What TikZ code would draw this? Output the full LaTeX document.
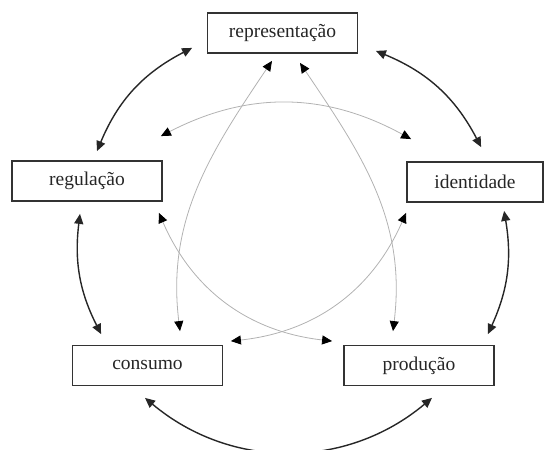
\documentclass[tikz,border=0pt]{standalone}
\usepackage{fontspec}
\setmainfont{Liberation Serif}
\usepackage{tikz}
\usetikzlibrary{arrows.meta}

\begin{document}
\begin{tikzpicture}[
  x=1pt, y=1pt,
  stage/.style={rectangle, draw=black!80, line width=1.8pt, minimum width=150pt, minimum height=40pt, text=black!85, font=\fontsize{19.5}{23}\selectfont},
  ring/.style={{Triangle[length=10pt, width=9pt]}-{Triangle[length=10pt, width=9pt]}, draw=black!85, line width=1.4pt},
  spoke/.style={{Triangle[length=10pt, width=9pt, color=black]}-{Triangle[length=10pt, width=9pt, color=black]}, draw=black!30, line width=0.8pt}
]
  \useasboundingbox (0,0) rectangle (544,450);

  \node[stage] (rep) at (282.5,417) {representação};
  \node[stage] (reg) at (87,269) {regulação};
  \node[stage, minimum width=136pt] (ide) at (475,268) {identidade};
  \node[stage] (con) at (147.5,84.5) {consumo};
  \node[stage] (pro) at (419,84.5) {produção};

  % outer circle
  \draw[ring] ([shift={(-14.5,6)}]rep.south west) to[bend right=20] ([shift={(10,9)}]reg.north);
  \draw[ring] ([shift={(17.5,3)}]rep.south east) to[bend left=20] ([shift={(75,14)}]ide.north west);
  \draw[ring] ([shift={(-7,-12)}]reg.south) to[bend right=17] ([shift={(29.5,10.5)}]con.north west);
  \draw[ring] ([shift={(98,-8)}]ide.south west) to[bend left=17] ([shift={(-7,10.5)}]pro.north east);
  \draw[ring] ([shift={(-2.5,-11.5)}]con.south) to[bend right=40] ([shift={(13,-11.5)}]pro.south);

  % inner star
  \draw[spoke] ([shift={(32.5,13.5)}]con.north) to[out=97, in=236] ([shift={(-10.5,-7)}]rep.south);
  \draw[spoke] ([shift={(-26,13.5)}]pro.north) to[out=83, in=-56] ([shift={(17.5,-9)}]rep.south);
  \draw[spoke] ([shift={(-2,24)}]reg.north east) to[bend left=28] ([shift={(5,22)}]ide.north west);
  \draw[spoke] ([shift={(-4,-11)}]reg.south east) to[bend right=30] ([shift={(-11,3.5)}]pro.north west);
  \draw[spoke] ([shift={(0,-10)}]ide.south west) to[bend left=30] ([shift={(7.5,3.5)}]con.north east);
\end{tikzpicture}
\end{document}
